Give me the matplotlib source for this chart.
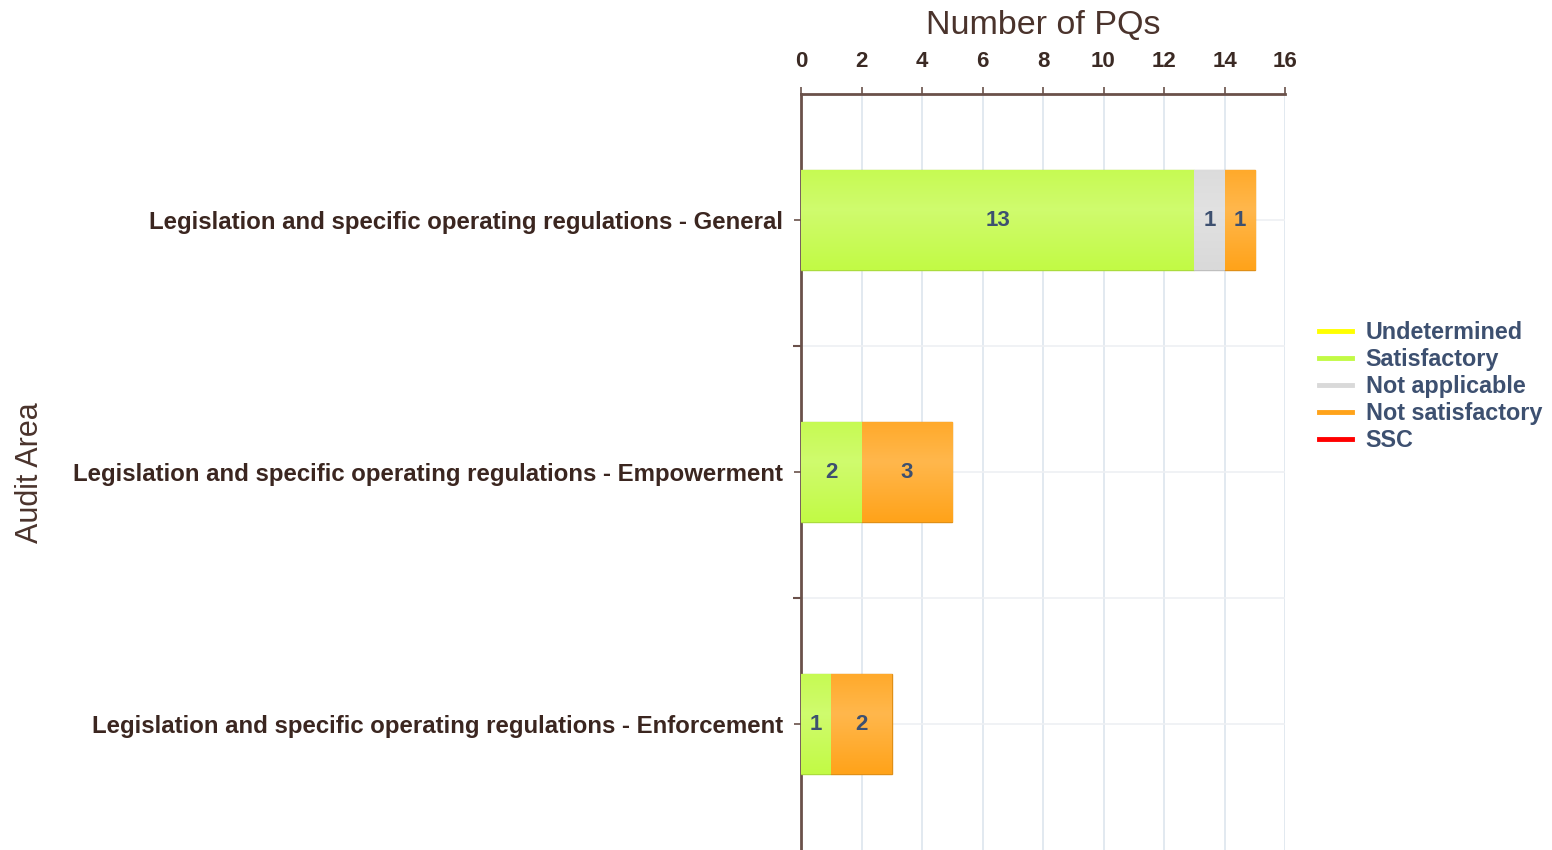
import numpy as np
import matplotlib.pyplot as plt
from matplotlib.lines import Line2D
from matplotlib.colors import to_rgb

plt.rcParams['font.family'] = ['Liberation Sans', 'DejaVu Sans']

categories = ['Legislation and specific operating regulations - General',
              'Legislation and specific operating regulations - Empowerment',
              'Legislation and specific operating regulations - Enforcement']
undetermined = [0, 0, 0]
satisfactory = [13, 2, 1]
not_applicable = [1, 0, 0]
not_satisfactory = [1, 3, 2]
ssc = [0, 0, 0]

series = [('Undetermined', undetermined, '#ffff00'),
          ('Satisfactory', satisfactory, '#c2fa45'),
          ('Not applicable', not_applicable, '#d9d9d9'),
          ('Not satisfactory', not_satisfactory, '#ffa31a'),
          ('SSC', ssc, '#ff0000')]

brown = '#6a514a'
label_col = '#3d5070'

fig = plt.figure(figsize=(15.52, 8.5), dpi=100)
ax = fig.add_axes([801/1552, 0, 484/1552, 756/850])

y = np.arange(len(categories))
left = np.zeros(len(categories))
for name, vals, col in series:
    vals = np.array(vals, dtype=float)
    keep = vals > 0
    if keep.any():
        bars = ax.barh(y[keep], vals[keep], left=left[keep], height=0.4, color=col,
                       edgecolor=tuple(c * 0.88 for c in to_rgb(col)), linewidth=1, zorder=3)
        for b, v in zip(bars, vals[keep]):
            # soft vertical gradient like the original renderer
            base = np.array(to_rgb(col))
            t = np.linspace(0, 1, 50)
            light = 1 - np.abs(t - 0.4) / 0.6
            grad = base[None, :] + (1 - base[None, :]) * 0.22 * light[:, None]
            img = np.repeat(grad[:, None, :], 2, axis=1)
            x0, y0 = b.get_x(), b.get_y()
            im = ax.imshow(img, extent=[x0, x0 + b.get_width(), y0 + b.get_height(), y0],
                           aspect='auto', zorder=3.5, interpolation='bilinear')
            im.set_clip_path(b)
            ax.text(x0 + v / 2, y0 + b.get_height() / 2, f'{int(v)}',
                    ha='center', va='center', fontsize=16, color=label_col,
                    fontweight='bold', zorder=5)
    left += vals

ax.set_xlim(0, 16)
ax.set_ylim(2.5, -0.5)
ax.set_xticks(np.arange(0, 17, 2))
ax.set_yticks(y)
ax.set_yticklabels(categories)
ax.set_yticks([0.5, 1.5], minor=True)
ax.xaxis.tick_top()
ax.xaxis.set_label_position('top')
ax.set_xlabel('Number of PQs', fontsize=24.5, color='#4a332c', labelpad=12)

ax.grid(True, axis='x', color='#dde5ee', linewidth=1.2, zorder=0)
ax.grid(True, axis='y', which='both', color='#eef0f3', linewidth=1.2, zorder=0)

for s in ['right', 'bottom']:
    ax.spines[s].set_visible(False)
for s in ['top', 'left']:
    ax.spines[s].set_color(brown)
    ax.spines[s].set_linewidth(2)

ax.tick_params(axis='x', colors=brown, labelcolor='#3b2a24', labelsize=16, length=5, width=1.2, pad=11)
ax.tick_params(axis='y', which='major', colors=brown, labelcolor='#3b2620', labelsize=17.3, length=5, width=1.2, pad=8)
ax.tick_params(axis='y', which='minor', colors=brown, length=6, width=1.5)
for t in ax.get_xticklabels():
    t.set_fontweight('bold')
for t in ax.get_yticklabels():
    t.set_fontweight('bold')

fig.text(30/1552, 1 - 473/850, 'Audit Area', rotation=90, ha='center', va='center',
         fontsize=22, color='#4a332c')

handles = [Line2D([], [], color=col, linewidth=3.5) for _, _, col in series]
leg = fig.legend(handles, [n for n, _, _ in series], loc='upper left',
                 bbox_to_anchor=(1319/1552, 1 - 321/850), frameon=False,
                 fontsize=16.8, handlelength=1.4, handletextpad=0.6,
                 labelspacing=0.17, borderaxespad=0, borderpad=0)
for t in leg.get_texts():
    t.set_color(label_col)
    t.set_fontweight('bold')

fig.savefig('out.png', dpi=100)
